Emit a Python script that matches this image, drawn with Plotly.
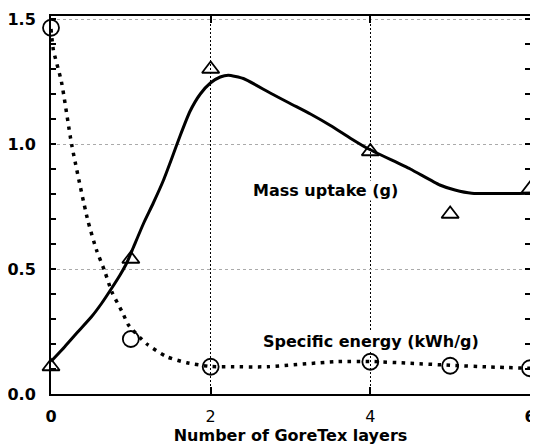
import plotly.graph_objects as go

# Measured points
layers = [0, 1, 2, 4, 5, 6]
mass_uptake = [0.11, 0.54, 1.30, 0.97, 0.72, 0.82]
specific_energy = [1.465, 0.22, 0.109, 0.129, 0.113, 0.103]

# Hand-drawn trend curves
mass_curve_x = [0, 0.175, 0.34, 0.51, 0.635, 0.76, 0.865, 0.95, 1.03, 1.16, 1.28, 1.41, 1.51, 1.62, 1.74, 1.87,
                2.0, 2.12, 2.22, 2.41, 2.74, 2.99, 3.25, 3.5, 3.75, 3.96, 4.5, 4.87, 5.06, 5.27, 6.0]
mass_curve_y = [0.13, 0.19, 0.25, 0.31, 0.363, 0.423, 0.476, 0.525, 0.585, 0.683, 0.763, 0.856, 0.94, 1.035, 1.13, 1.2,
                1.245, 1.268, 1.275, 1.262, 1.205, 1.163, 1.12, 1.074, 1.023, 0.983, 0.90, 0.836, 0.816, 0.803, 0.803]
energy_curve_x = [0, 0.03, 0.13, 0.26, 0.46, 0.57, 0.675, 0.76, 0.9, 0.97, 1.2, 1.45, 1.7, 2.0, 2.26,
                  2.71, 3.55, 4.0, 4.5, 5.0, 5.5, 6.0]
energy_curve_y = [1.46, 1.376, 1.25, 0.996, 0.696, 0.576, 0.489, 0.41, 0.323, 0.276, 0.2, 0.149, 0.125, 0.11, 0.109,
                  0.109, 0.129, 0.13, 0.123, 0.115, 0.108, 0.103]

x_tickvals = [0, 2, 4, 6]
x_ticktext = ["<b>0</b>", "2", "4", "<b>6</b>"]

FONT = "DejaVu Sans"

fig = go.Figure()

fig.add_trace(go.Scatter(x=mass_curve_x, y=mass_curve_y, mode="lines",
                         line=dict(color="black", width=3, shape="spline", smoothing=0.5),
                         hoverinfo="skip"))
fig.add_trace(go.Scatter(x=energy_curve_x, y=energy_curve_y, mode="lines",
                         line=dict(color="black", width=3.5, shape="spline", smoothing=0.6, dash="3.5px,5.5px"),
                         hoverinfo="skip"))
fig.add_trace(go.Scatter(x=layers, y=mass_uptake, mode="markers", cliponaxis=False,
                         marker=dict(symbol="triangle-up-open", size=15, color="black",
                                     line=dict(width=1.8, color="black"))))
fig.add_trace(go.Scatter(x=layers, y=specific_energy, mode="markers", cliponaxis=False,
                         marker=dict(symbol="circle-open", size=16, color="black",
                                     line=dict(width=1.8, color="black"))))

fig.add_annotation(x=3.44, y=0.816, text="<b>Mass uptake (g)</b>", showarrow=False,
                   font=dict(family=FONT, size=16, color="black"), bgcolor="white", borderpad=0)
fig.add_annotation(x=4.01, y=0.212, text="<b>Specific energy (kWh/g)</b>", showarrow=False,
                   font=dict(family=FONT, size=16, color="black"), bgcolor="white", borderpad=0)

# the page body adds an 8px offset on the left and top
fig.update_layout(
    width=530, height=438,
    margin=dict(l=43, r=8, t=8, b=52),
    paper_bgcolor="white", plot_bgcolor="white",
    showlegend=False,
    font=dict(family=FONT, color="black"),
)
fig.update_xaxes(
    range=[0, 6], tickvals=x_tickvals, ticktext=x_ticktext, automargin=False,
    showline=True, linecolor="black", linewidth=2, mirror="ticks",
    ticks="inside", ticklen=7, tickwidth=1.5, tickcolor="black",
    showgrid=True, gridcolor="black", gridwidth=1, griddash="2px,2px",
    zeroline=False, ticklabelstandoff=7,
    tickfont=dict(family=FONT, size=16, color="black"),
    title=dict(text="<b>Number of GoreTex layers</b>", font=dict(family=FONT, size=16, color="black"), standoff=5),
)
fig.update_yaxes(
    range=[0, 1.512], dtick=0.5, tick0=0, tickformat=".1f", automargin=False,
    showline=True, linecolor="black", linewidth=2, mirror="ticks",
    ticks="inside", ticklen=5, tickwidth=1.5, tickcolor="black",
    minor=dict(dtick=0.1, ticks="inside", ticklen=5, tickwidth=1.5, tickcolor="black", showgrid=False),
    showgrid=True, gridcolor="#aaaaaa", gridwidth=1, griddash="3px,3px",
    zeroline=False, ticklabelstandoff=10,
    tickfont=dict(family=FONT, size=16, color="black", weight="bold"),
)

fig.write_html("out.html")
